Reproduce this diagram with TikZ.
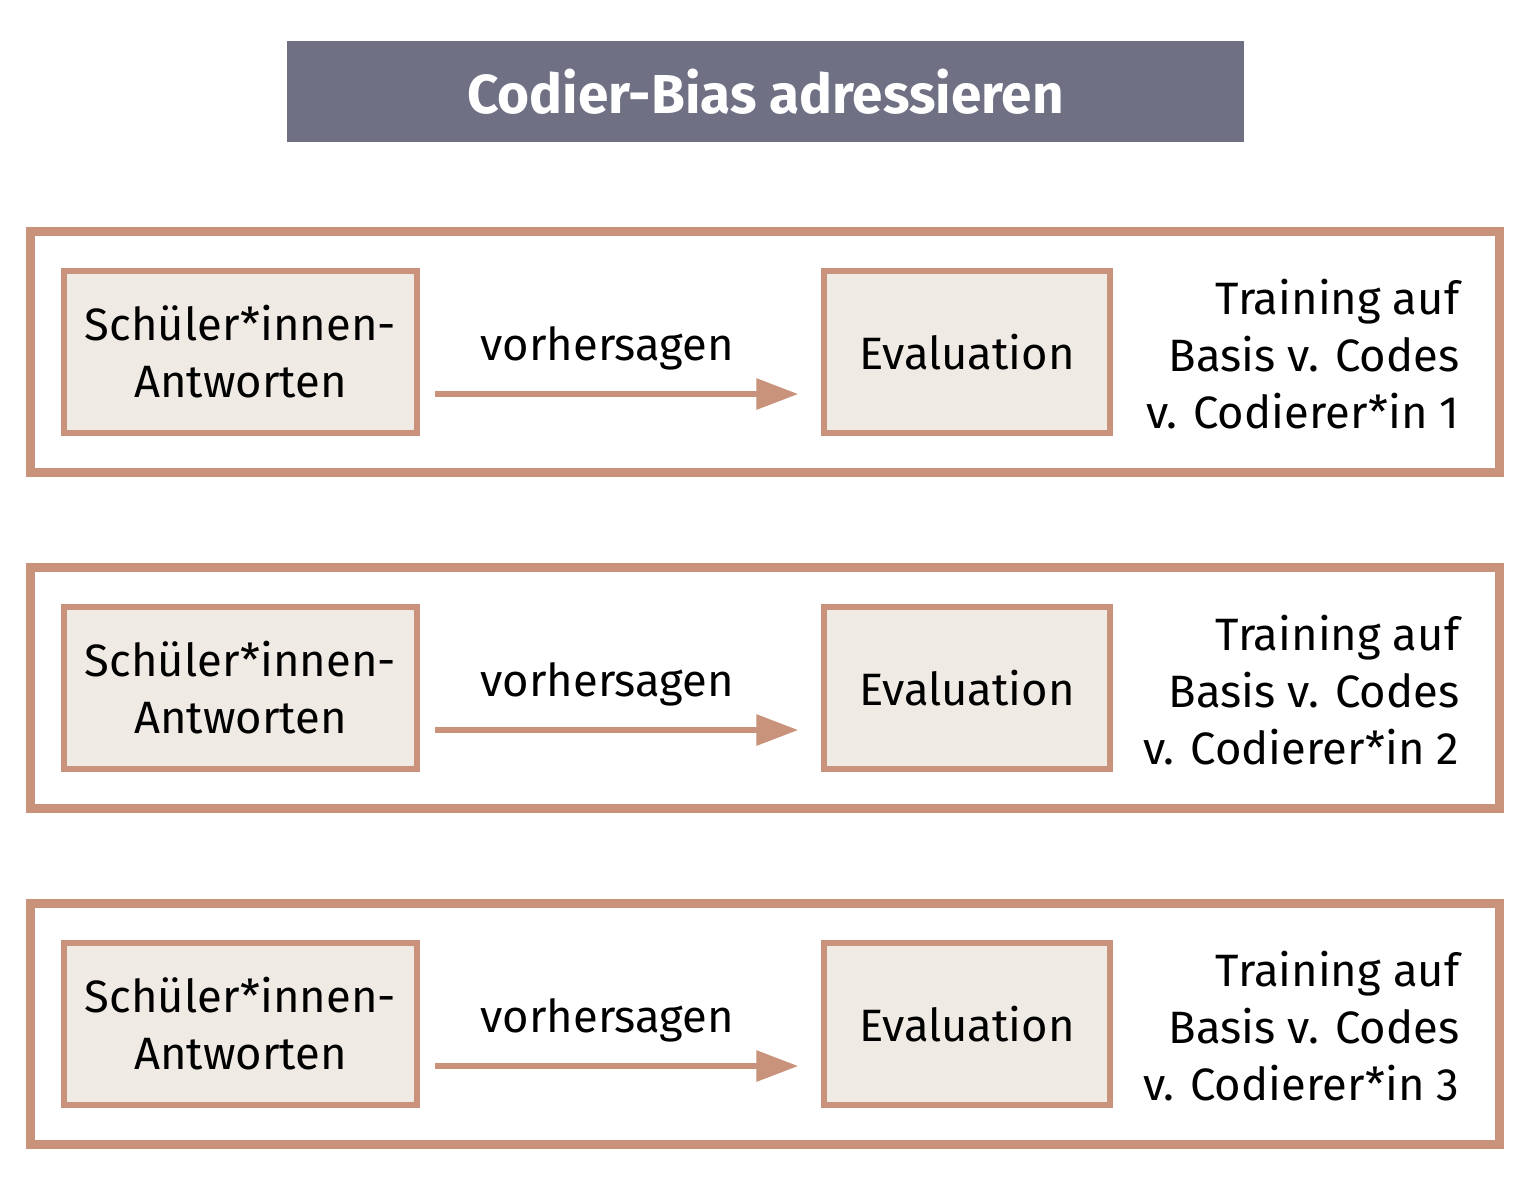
\documentclass[tikz,border=0pt]{standalone}
\usepackage{fontspec}
\setmainfont{Fira Sans}
\usetikzlibrary{positioning,arrows.meta}
\definecolor{rahmen}{HTML}{C8937A}
\definecolor{feld}{HTML}{EFEAE3}
\definecolor{kopf}{HTML}{6F7084}
\newcommand{\textgr}{\fontsize{12.9}{16.2}\selectfont}

\begin{document}
\begin{tikzpicture}[x=0.01cm,y=-0.01cm,
    feldbox/.style={draw=rahmen,fill=feld,line width=0.06cm,align=center,inner sep=0pt,font=\textgr},
    rahmenbox/.style={draw=rahmen,line width=0.09cm,minimum width=14.685cm,minimum height=2.41cm,inner sep=0pt},
    pfeil/.style={draw=rahmen,line width=0.06cm,-{Triangle[length=0.42cm,width=0.3cm]}}]
  \useasboundingbox (0,0) rectangle (1529,1190);
  \node [fill=kopf,minimum width=9.57cm,minimum height=1.01cm,text=white,font=\fontsize{15.6}{18}\selectfont\bfseries] (titel) at (765.5,91.5) {Codier-Bias adressieren};
  \foreach \i/\y in {1/352,2/688,3/1024} {
    \node [rahmenbox] (frame\i) at (765,\y) {};
    \node [feldbox,minimum width=3.53cm,minimum height=1.62cm] (ans\i) at (240.5,\y) {Schüler*innen-\\Antworten};
    \node [feldbox,on grid,right=7.26cm of ans\i,minimum width=2.85cm,minimum height=1.62cm] (eval\i) {Evaluation};
    \node [align=right,anchor=east,inner sep=0pt,font=\textgr] (info\i) at (1460,\y+2) {Training auf\\Basis v. Codes\\v. Codierer*in \i};
    \draw [pfeil] ([xshift=0.15cm,yshift=-0.42cm]ans\i.east) -- node [midway,yshift=0.46cm,xshift=-0.095cm,font=\textgr] (vorh\i) {vorhersagen} ([xshift=-0.23cm,yshift=-0.42cm]eval\i.west);
  }
\end{tikzpicture}
\end{document}
